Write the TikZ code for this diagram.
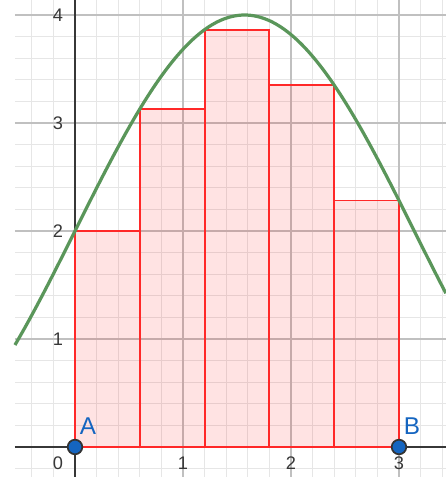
\documentclass[tikz,border=0pt]{standalone}
\usepackage{fontspec}
\setmainfont{Liberation Sans}
\definecolor{gridminor}{RGB}{230,230,230}
\definecolor{gridmajor}{RGB}{192,192,192}
\definecolor{axiscol}{RGB}{55,55,55}
\definecolor{curvecol}{RGB}{90,150,90}
\definecolor{rectedge}{RGB}{255,40,40}
\definecolor{ptblue}{RGB}{21,101,192}
\begin{document}
\begin{tikzpicture}[x=1cm,y=1cm,
  ticklabel/.style={text=axiscol,font=\fontsize{4.8}{5}\selectfont,inner sep=0pt},
  ptlabel/.style={text=ptblue,font=\fontsize{6.4}{7}\selectfont,inner sep=0pt},
  bar/.style={draw=rectedge,line width=0.5pt,fill=red,fill opacity=0.11},
  pt/.style={circle,fill=ptblue,draw=black!80,line width=0.45pt,minimum size=0.135cm,inner sep=0pt}]
\useasboundingbox (-0.6944,-0.2778) rectangle (3.4352,4.1389);
% grid
\draw[gridminor,line width=0.35pt,step=0.2] (-0.556,-0.2778) grid (3.4352,4.1389);
\draw[gridmajor,line width=0.45pt,step=1] (-0.556,-0.2778) grid (3.4352,4.1389);
% axes
\draw[axiscol,line width=0.5pt] (-0.556,0) -- (3.4352,0);
\draw[axiscol,line width=0.5pt] (0,-0.2778) -- (0,4.1389);
% rectangles (lower sum of 2+2 sin x on [0,3], n=5)
\draw[bar] (0,0) rectangle (0.6,2);
\draw[bar] (0.6,0) rectangle (1.2,3.1293);
\draw[bar] (1.2,0) rectangle (1.8,3.8641);
\draw[bar] (1.8,0) rectangle (2.4,3.3509);
\draw[bar] (2.4,0) rectangle (3,2.2822);
% curve
\draw[curvecol,line width=0.85pt,samples=200,domain=-0.556:3.4352,smooth] plot (\x,{2+2*sin(\x r)});
% tick labels
\node[ticklabel] (x0) at (-0.157,-0.152) {0};
\node[ticklabel] (x1) at (1,-0.152) {1};
\node[ticklabel] (x2) at (2,-0.152) {2};
\node[ticklabel] (x3) at (3,-0.152) {3};
\node[ticklabel] (y1) at (-0.157,1) {1};
\node[ticklabel] (y2) at (-0.157,2) {2};
\node[ticklabel] (y3) at (-0.157,3) {3};
\node[ticklabel] (y4) at (-0.157,4) {4};
% points
\node[pt] (A) at (0,0) {};
\node[pt] (B) at (3,0) {};
\node[ptlabel] (Alab) at (0.12,0.19) {A};
\node[ptlabel] (Blab) at (3.12,0.19) {B};
\end{tikzpicture}
\end{document}
